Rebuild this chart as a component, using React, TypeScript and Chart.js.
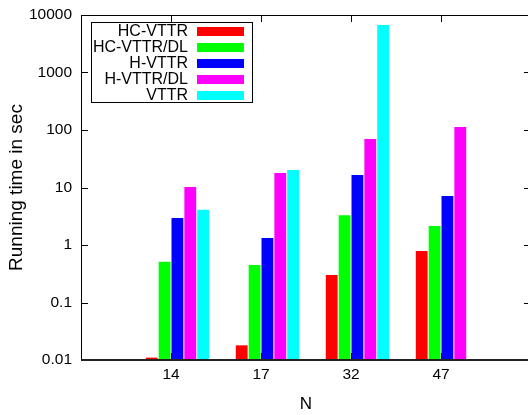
import { useEffect, useRef } from "react";
import { Chart, registerables } from "chart.js";

Chart.register(...registerables);

const categories = ["14", "17", "32", "47"];
const seriesNames = ["HC-VTTR", "HC-VTTR/DL", "H-VTTR", "H-VTTR/DL", "VTTR"];
const hcVttr = [0.011, 0.018, 0.3, 0.79];
const hcVttrDl = [0.51, 0.45, 3.3, 2.15];
const hVttr = [2.95, 1.32, 16.5, 7.1];
const hVttrDl = [10.2, 17.9, 70, 113];
const vttr: (number | null)[] = [4.1, 20.1, 6700, null];
const seriesColors = ["#ff0000", "#00ff00", "#0000ff", "#ff00ff", "#00ffff"];
const yTickValues = [0.01, 0.1, 1, 10, 100, 1000, 10000];
const yTickLabels = ["0.01", "0.1", "1", "10", "100", "1000", "10000"];

const FONT = "'Liberation Sans', Arial, sans-serif";

const pad = (arr: (number | null)[]) => [null, ...arr, null];

const framePlugin = {
  id: "gnuFrame",
  afterDatasetsDraw(chart: any) {
    const { ctx, chartArea, scales } = chart;
    const { left, right, top, bottom } = chartArea;
    const x = scales.x;
    const y = scales.y;
    ctx.save();
    ctx.strokeStyle = "#000";
    ctx.lineWidth = 1;
    ctx.beginPath();
    for (let i = 1; i <= categories.length; i++) {
      const px = Math.round(x.getPixelForValue(i)) + 0.5;
      ctx.moveTo(px, bottom);
      ctx.lineTo(px, bottom - 7);
      ctx.moveTo(px, top);
      ctx.lineTo(px, top + 7);
    }
    for (const v of yTickValues) {
      const py = Math.round(y.getPixelForValue(v)) + 0.5;
      ctx.moveTo(left, py);
      ctx.lineTo(left + 7, py);
      ctx.moveTo(right, py);
      ctx.lineTo(right - 7, py);
    }
    ctx.stroke();
    ctx.beginPath();
    ctx.moveTo(left + 0.5, bottom);
    ctx.lineTo(left + 0.5, top + 0.5);
    ctx.lineTo(right - 0.5, top + 0.5);
    ctx.lineTo(right - 0.5, bottom);
    ctx.stroke();
    ctx.strokeStyle = "#222";
    ctx.lineWidth = 2;
    ctx.beginPath();
    ctx.moveTo(left, bottom);
    ctx.lineTo(right, bottom);
    ctx.stroke();
    ctx.restore();
  },
};

const legendPlugin = {
  id: "gnuLegend",
  afterDraw(chart: any) {
    const { ctx } = chart;
    const items = chart.data.datasets.filter((d: any) => d.label);
    ctx.save();
    ctx.fillStyle = "#fff";
    ctx.fillRect(92, 23, 160, 79);
    ctx.strokeStyle = "#000";
    ctx.lineWidth = 1;
    ctx.strokeRect(91.5, 22.5, 161, 80);
    ctx.font = `16px ${FONT}`;
    ctx.textAlign = "right";
    ctx.textBaseline = "middle";
    items.forEach((d: any, i: number) => {
      const cy = 31 + 16 * i;
      ctx.fillStyle = "#000";
      ctx.fillText(d.label, 188, cy + 0.5);
      ctx.fillStyle = d.backgroundColor;
      ctx.fillRect(197, Math.round(cy - 4.5), 47, 9);
    });
    ctx.restore();
  },
};

export default function App() {
  const ref = useRef<HTMLCanvasElement | null>(null);
  useEffect(() => {
    if (!ref.current) return;
    const series = [hcVttr, hcVttrDl, hVttr, hVttrDl, vttr];
    const datasets: any[] = [
      { label: "", data: pad(categories.map(() => null)), backgroundColor: "rgba(0,0,0,0)" },
      ...series.map((s, i) => ({
        label: seriesNames[i],
        data: pad(s),
        backgroundColor: seriesColors[i],
        borderWidth: 0,
      })),
    ];
    const chart = new Chart(ref.current, {
      type: "bar",
      data: { labels: ["", ...categories, ""], datasets },
      options: {
        animation: false,
        responsive: false,
        devicePixelRatio: 1,
        layout: { padding: { top: 15, right: 9, left: 0, bottom: 0 } },
        datasets: { bar: { barPercentage: 0.92, categoryPercentage: 6 / 7 } },
        plugins: { legend: { display: false }, tooltip: { enabled: false } },
        scales: {
          x: {
            type: "category",
            offset: false,
            grid: { display: false, drawTicks: true, tickLength: 5.5 },
            border: { display: false },
            ticks: {
              padding: 0,
              autoSkip: false,
              maxRotation: 0,
              color: "#000",
              font: { family: FONT, size: 15.5 },
            },
            title: {
              display: true,
              text: "N",
              color: "#000",
              font: { family: FONT, size: 17 },
              padding: { top: 0, bottom: 0 },
            },
            afterFit: (s: any) => {
              s.height = 55;
            },
          },
          y: {
            type: "logarithmic",
            min: 0.01,
            max: 10000,
            grid: { display: false, drawTicks: true, tickLength: 9 },
            border: { display: false },
            afterBuildTicks: (s: any) => {
              s.ticks = yTickValues.map((v) => ({ value: v }));
            },
            ticks: {
              padding: 0,
              color: "#000",
              font: { family: FONT, size: 15.5 },
              callback: (_v: any, i: number) => yTickLabels[i],
            },
            title: {
              display: true,
              text: "Running time in sec",
              color: "#000",
              font: { family: FONT, size: 19 },
              padding: { top: 5, bottom: 0 },
            },
            afterFit: (s: any) => {
              s.width = 81;
            },
          },
        },
      } as any,
      plugins: [framePlugin, legendPlugin],
    });
    return () => chart.destroy();
  }, []);
  return (
    <div
      style={{
        position: "fixed",
        left: 0,
        top: 0,
        width: 528,
        height: 415,
        overflow: "hidden",
        background: "#fff",
      }}
    >
      <canvas ref={ref} width={540} height={415} style={{ display: "block" }} />
    </div>
  );
}
